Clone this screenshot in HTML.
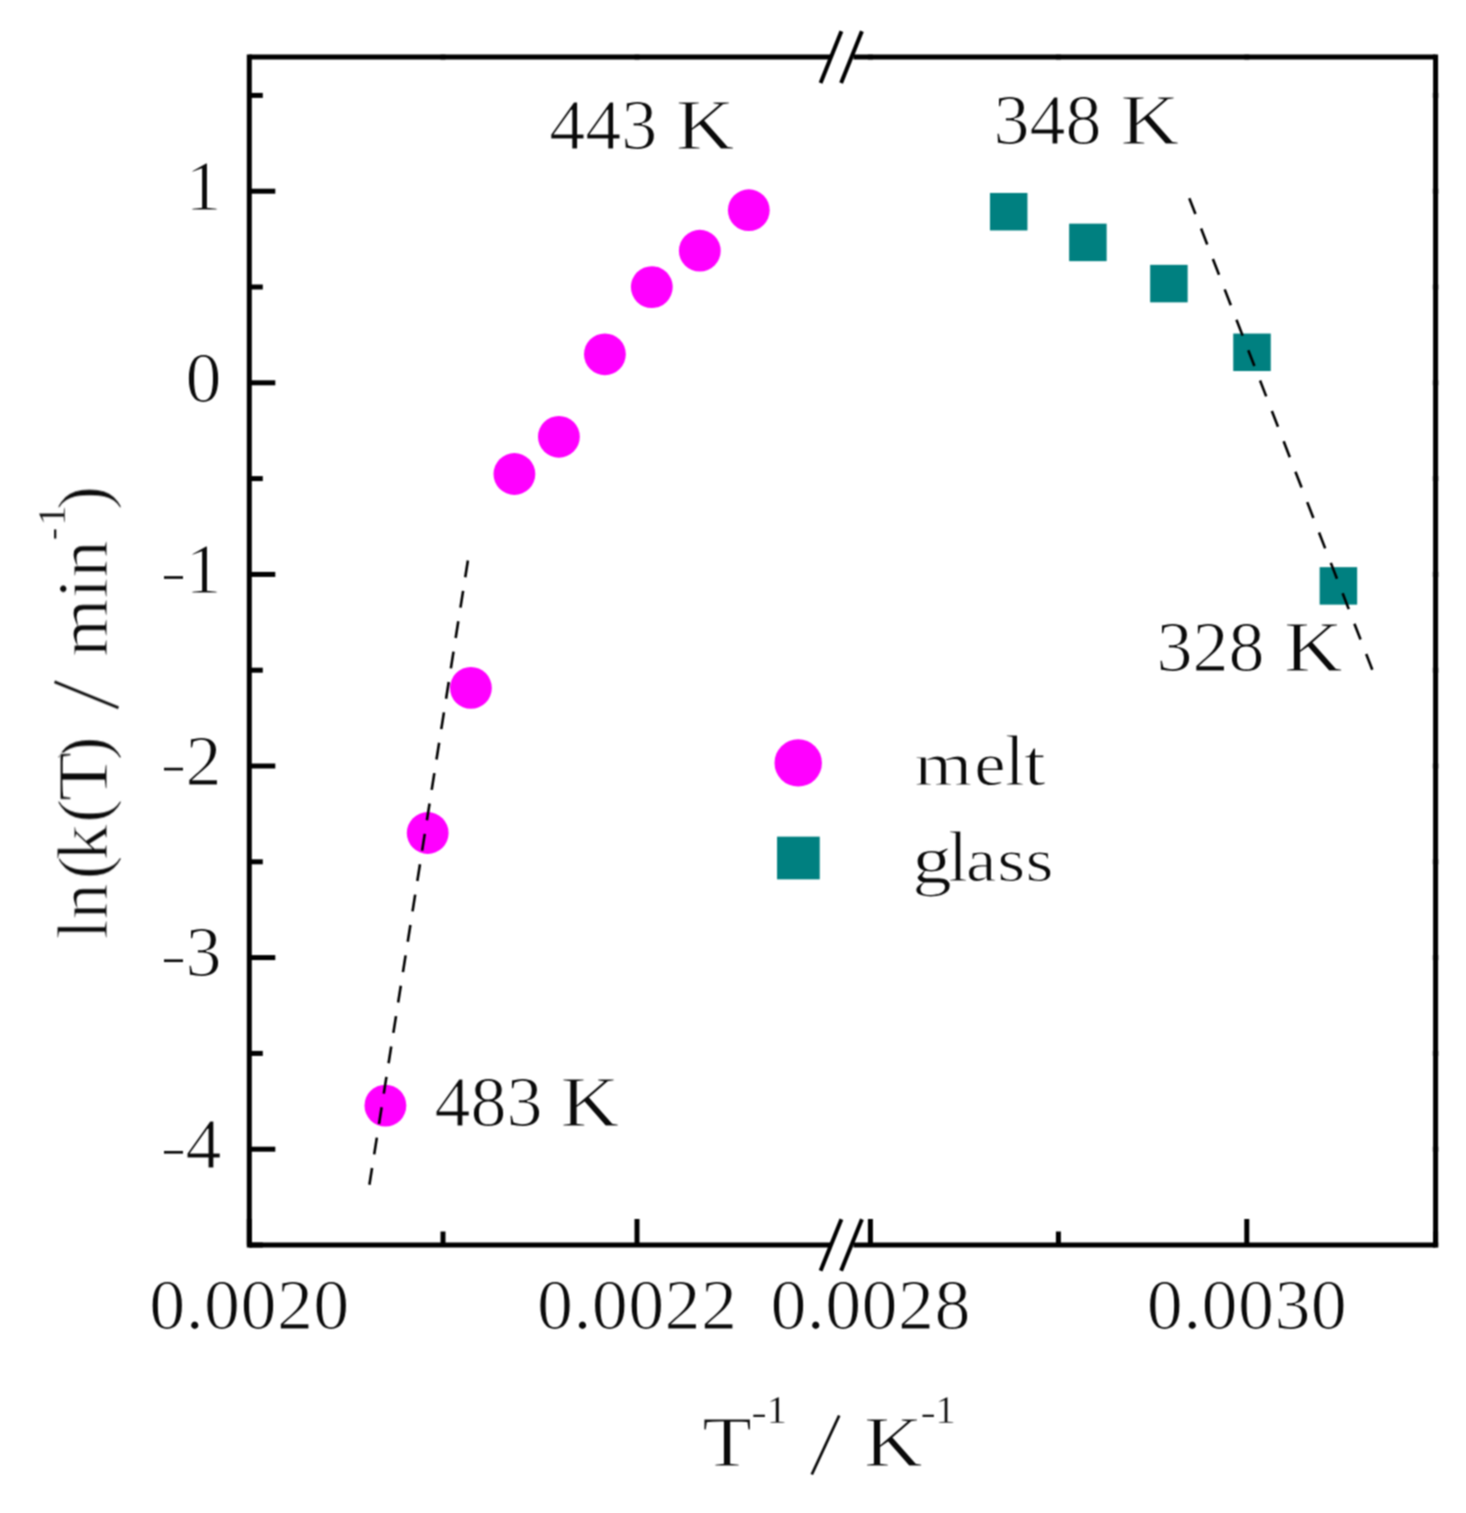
<!DOCTYPE html>
<html><head><meta charset="utf-8"><title>chart</title>
<style>html,body{margin:0;padding:0;background:#fff}svg{display:block}text{font-family:"Liberation Serif",serif;fill:#0a0a0a;stroke:#fff;stroke-width:1.2px}</style></head><body>
<svg width="1466" height="1513" viewBox="0 0 1466 1513">
<defs><filter id="g" x="0" y="0" width="1466" height="1513" filterUnits="userSpaceOnUse" color-interpolation-filters="sRGB"><feConvolveMatrix order="3" kernelMatrix="1 2 1 2 4 2 1 2 1" divisor="16" edgeMode="duplicate" preserveAlpha="false"/></filter></defs>
<rect width="1466" height="1513" fill="#fff"/>
<g filter="url(#g)">
<g stroke="#000" stroke-width="5" fill="none" stroke-linecap="butt">
<line x1="249.3" y1="54.6" x2="249.3" y2="1247.5"/>
<line x1="1435.6" y1="54.6" x2="1435.6" y2="1247.5"/>
<line x1="249.3" y1="57.1" x2="831" y2="57.1"/>
<line x1="853.5" y1="57.1" x2="1435.6" y2="57.1"/>
<line x1="249.3" y1="1245.0" x2="831" y2="1245.0"/>
<line x1="853.5" y1="1245.0" x2="1435.6" y2="1245.0"/>
<line x1="249.3" y1="191.2" x2="275.3" y2="191.2"/>
<line x1="249.3" y1="382.8" x2="275.3" y2="382.8"/>
<line x1="249.3" y1="574.4" x2="275.3" y2="574.4"/>
<line x1="249.3" y1="766.0" x2="275.3" y2="766.0"/>
<line x1="249.3" y1="957.6" x2="275.3" y2="957.6"/>
<line x1="249.3" y1="1149.2" x2="275.3" y2="1149.2"/>
<line x1="249.3" y1="95.4" x2="262.8" y2="95.4"/>
<line x1="249.3" y1="287.0" x2="262.8" y2="287.0"/>
<line x1="249.3" y1="478.6" x2="262.8" y2="478.6"/>
<line x1="249.3" y1="670.2" x2="262.8" y2="670.2"/>
<line x1="249.3" y1="861.8" x2="262.8" y2="861.8"/>
<line x1="249.3" y1="1053.4" x2="262.8" y2="1053.4"/>
<line x1="249.3" y1="1245.0" x2="262.8" y2="1245.0"/>
<line x1="249.3" y1="1245.0" x2="249.3" y2="1219.0"/>
<line x1="637.0" y1="1245.0" x2="637.0" y2="1219.0"/>
<line x1="870.4" y1="1245.0" x2="870.4" y2="1219.0"/>
<line x1="1246.8" y1="1245.0" x2="1246.8" y2="1219.0"/>
<line x1="443.0" y1="1245.0" x2="443.0" y2="1231.5"/>
<line x1="1058.4" y1="1245.0" x2="1058.4" y2="1231.5"/>
<line x1="1435.6" y1="1245.0" x2="1435.6" y2="1231.5"/>
</g>
<g fill="#000" opacity="0.3">
<rect x="1432.5" y="188.7" width="6.2" height="5"/>
<rect x="1432.5" y="380.3" width="6.2" height="5"/>
<rect x="1432.5" y="571.9" width="6.2" height="5"/>
<rect x="1432.5" y="763.5" width="6.2" height="5"/>
<rect x="1432.5" y="955.1" width="6.2" height="5"/>
<rect x="1432.5" y="1146.7" width="6.2" height="5"/>
<rect x="1432.5" y="92.9" width="6.2" height="5"/>
<rect x="1432.5" y="284.5" width="6.2" height="5"/>
<rect x="1432.5" y="476.1" width="6.2" height="5"/>
<rect x="1432.5" y="667.7" width="6.2" height="5"/>
<rect x="1432.5" y="859.3" width="6.2" height="5"/>
<rect x="1432.5" y="1050.9" width="6.2" height="5"/>
<rect x="1432.5" y="1242.5" width="6.2" height="5"/>
<rect x="440.5" y="54.0" width="5" height="6.2"/>
<rect x="634.5" y="54.0" width="5" height="6.2"/>
<rect x="867.9" y="54.0" width="5" height="6.2"/>
<rect x="1055.9" y="54.0" width="5" height="6.2"/>
<rect x="1244.3" y="54.0" width="5" height="6.2"/>
</g>
<g stroke="#000" stroke-width="4.0" stroke-linecap="butt">
<line x1="820.6" y1="82.9" x2="841.4" y2="31.3"/>
<line x1="841.1" y1="82.9" x2="861.9" y2="31.3"/>
<line x1="820.6" y1="1270.8" x2="841.4" y2="1219.2"/>
<line x1="841.1" y1="1270.8" x2="861.9" y2="1219.2"/>
</g>
<g fill="#ff00ff">
<circle cx="748.8" cy="210.2" r="20.9"/>
<circle cx="699.8" cy="250.7" r="20.9"/>
<circle cx="651.8" cy="287.1" r="20.9"/>
<circle cx="604.9" cy="354.3" r="20.9"/>
<circle cx="558.9" cy="436.8" r="20.9"/>
<circle cx="514.4" cy="474.0" r="20.9"/>
<circle cx="470.9" cy="687.9" r="20.9"/>
<circle cx="427.7" cy="833.0" r="20.9"/>
<circle cx="385.4" cy="1105.6" r="20.9"/>
<circle cx="798.2" cy="762.9" r="23.7"/>
</g>
<g fill="#008080">
<rect x="989.95" y="192.95" width="37.5" height="37.5"/>
<rect x="1069.15" y="223.65" width="37.5" height="37.5"/>
<rect x="1150.15" y="264.85" width="37.5" height="37.5"/>
<rect x="1233.25" y="333.55" width="37.5" height="37.5"/>
<rect x="1319.65" y="567.15" width="37.5" height="37.5"/>
<rect x="777.05" y="836.65" width="42.7" height="42.7"/>
</g>
<g stroke="#000" stroke-width="2.6" fill="none">
<line x1="467.9" y1="560.5" x2="369.4" y2="1184.8" stroke-dasharray="17 13.75"/>
<line x1="1189.3" y1="198.2" x2="1372.3" y2="669.8" stroke-dasharray="17 15.6"/>
</g>
<text x="221.5" y="209.9" font-size="72" text-anchor="end">1</text>
<text x="221.5" y="401.5" font-size="72" text-anchor="end">0</text>
<text x="221.5" y="593.1" font-size="72" text-anchor="end">1</text>
<line x1="164.0" y1="577.5" x2="183.0" y2="577.5" stroke="#0a0a0a" stroke-width="2.7"/>
<text x="221.5" y="784.7" font-size="72" text-anchor="end">2</text>
<line x1="164.0" y1="769.1" x2="183.0" y2="769.1" stroke="#0a0a0a" stroke-width="2.7"/>
<text x="221.5" y="976.3" font-size="72" text-anchor="end">3</text>
<line x1="164.0" y1="960.7" x2="183.0" y2="960.7" stroke="#0a0a0a" stroke-width="2.7"/>
<text x="221.5" y="1167.9" font-size="72" text-anchor="end">4</text>
<line x1="164.0" y1="1152.3" x2="183.0" y2="1152.3" stroke="#0a0a0a" stroke-width="2.7"/>
<text x="149.3" y="1328.8" font-size="72" textLength="200" lengthAdjust="spacing">0.0020</text>
<text x="537.0" y="1328.8" font-size="72" textLength="200" lengthAdjust="spacing">0.0022</text>
<text x="770.4" y="1328.8" font-size="72" textLength="200" lengthAdjust="spacing">0.0028</text>
<text x="1146.8" y="1328.8" font-size="72" textLength="200" lengthAdjust="spacing">0.0030</text>
<text x="549.2" y="148.6" font-size="72">443</text>
<text transform="translate(675.7,148.6) scale(1.13,1)" font-size="72">K</text>
<text x="993.45" y="143.6" font-size="72">348</text>
<text transform="translate(1120.5,143.6) scale(1.13,1)" font-size="72">K</text>
<text x="434.45" y="1126.1" font-size="72">483</text>
<text transform="translate(560.6,1126.1) scale(1.13,1)" font-size="72">K</text>
<text x="1156.5" y="671.0" font-size="72">328</text>
<text transform="translate(1284.0,671.0) scale(1.13,1)" font-size="72">K</text>
<text transform="translate(914.5,784.6) scale(1.03,0.85)" font-size="72">m</text>
<text transform="translate(974.2,784.6) scale(0.98,0.85)" font-size="72">e</text>
<text transform="translate(1004.7,784.6) scale(1,1)" font-size="72">l</text>
<text transform="translate(1023.8,784.6) scale(1.1,0.9)" font-size="72">t</text>
<text transform="translate(912.3,883.2) scale(1.1,0.95)" font-size="72">g</text>
<text transform="translate(947.9,880.9) scale(1,1)" font-size="72">l</text>
<text transform="translate(965.9,880.9) scale(0.95,0.85)" font-size="72">a</text>
<text transform="translate(997.2,880.9) scale(1,0.85)" font-size="72">s</text>
<text transform="translate(1025.6,880.9) scale(1,0.85)" font-size="72">s</text>
<text transform="translate(702.3,1465.9) scale(1.13,1)" font-size="72">T</text>
<line x1="753.3" y1="1415.8" x2="764.9" y2="1415.8" stroke="#0a0a0a" stroke-width="2.2"/>
<text x="766.6" y="1423.4" font-size="41" style="stroke-width:0.4px">1</text>
<line x1="811.8" y1="1474.5" x2="839.2" y2="1415.5" stroke="#0a0a0a" stroke-width="2.8"/>
<text transform="translate(864,1465.9) scale(1.13,1)" font-size="72">K</text>
<line x1="922.5" y1="1415.8" x2="933.9" y2="1415.8" stroke="#0a0a0a" stroke-width="2.2"/>
<text x="935.2" y="1423.4" font-size="41" style="stroke-width:0.4px">1</text>
<g transform="translate(107,938.4) rotate(-90)">
<text font-size="72" y="0"><tspan x="-1">ln</tspan><tspan x="59">(</tspan><tspan x="78">k</tspan><tspan x="115.5">(</tspan><tspan x="178">)</tspan><tspan x="428.5">)</tspan></text>
<text transform="translate(137.2,0) scale(1.12,1)" font-size="72">T</text>
<text transform="translate(281.6,0) scale(1.04,1)" font-size="72">min</text>
<line x1="230.6" y1="11.5" x2="256.6" y2="-52.5" stroke="#0a0a0a" stroke-width="2.8"/>
<line x1="399.8" y1="-51.8" x2="409.0" y2="-51.8" stroke="#0a0a0a" stroke-width="2.2"/>
<text font-size="41" x="412.4" y="-42" style="stroke-width:0.4px">1</text>
</g>
</g>
</svg></body></html>
